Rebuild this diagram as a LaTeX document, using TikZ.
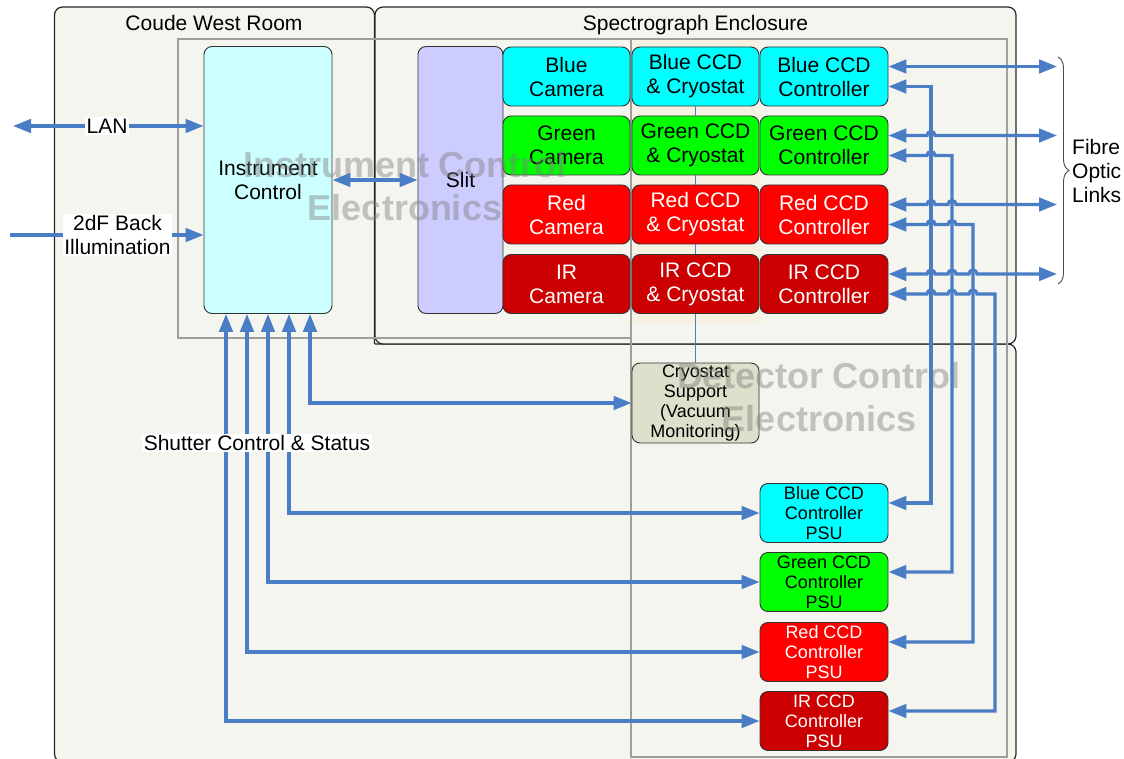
\documentclass[tikz,border=0pt]{standalone}
\usepackage{fontspec}
\setmainfont{Liberation Sans}
\usetikzlibrary{arrows.meta,decorations.pathreplacing}
\definecolor{outerfill}{HTML}{F5F5F0}
\definecolor{beigecol}{HTML}{F6F1E0}
\definecolor{ablue}{RGB}{73,125,197}
\definecolor{icfill}{HTML}{CCFFFF}
\definecolor{slitfill}{HTML}{CCCCFF}
\definecolor{cyanb}{HTML}{00FFFF}
\definecolor{greenb}{HTML}{00FF00}
\definecolor{redb}{HTML}{FF0000}
\definecolor{irb}{HTML}{CC0000}
\definecolor{cryofill}{HTML}{DDE0CA}
\definecolor{wmgray}{RGB}{128,128,128}
\newcommand\fbig{\fontsize{21}{24}\selectfont}
\newcommand\fsmall{\fontsize{18}{20}\selectfont}
\newcommand\fwm{\fontsize{36}{43}\selectfont\bfseries}
\begin{document}
\begin{tikzpicture}[x=1pt,y=-1pt,
  outline/.style={draw=black!85, line width=1.2pt, rounded corners=8pt},
  outerbox/.style={outline, fill=outerfill},
  grayrect/.style={draw=black!38, line width=1.4pt},
  box/.style={draw=black!80, line width=0.9pt, rounded corners=8pt, minimum width=127pt, minimum height=59pt, inner sep=0pt, align=center, font=\fbig},
  psu/.style={box, font=\fsmall, minimum width=128pt},
  conn/.style={draw=ablue, line width=3.2pt},
  >={Triangle[length=18pt,width=13.5pt]},
  lbl/.style={fill=white, inner sep=1.5pt, font=\fbig, align=center},
  ttl/.style={font=\fbig, inner sep=0pt},
  wm/.style={text=wmgray, text opacity=0.45, font=\fwm, align=center, inner sep=0pt}
]
\fill[white] (0,0) rectangle (1124,759);
\useasboundingbox (0,0) rectangle (1124,759);

% outer enclosures
\fill[outerfill, rounded corners=8pt] (54.5,7) rectangle (374.5,770);
\fill[outerfill, rounded corners=8pt] (360,344) rectangle (1016,762);
\draw[outline] (374.5,344) -- (374.5,7) -- (54.5,7) -- (54.5,762) -- (300,762);
\draw[outline] (375,344) -- (1016,344) -- (1016,762) -- (800,762);
\draw[outerbox] (375,7) rectangle (1016,344);
\fill[beigecol] (632,39) rectangle (760,323);
\draw[grayrect] (178,39) rectangle (631,338);
\draw[grayrect] (631,39) rectangle (1007,757);

\node[ttl] (tC) at (214,23) {Coude West Room};
\node[ttl] (tS) at (695.5,25) {Spectrograph Enclosure};

% main nodes
\node[box, fill=icfill, minimum width=128pt, minimum height=267pt] (ic) at (268,180) {Instrument\\Control};
\node[box, fill=slitfill, minimum width=85pt, minimum height=267pt] (slit) at (460.5,180) {Slit};

\node[box, fill=cyanb] (camB) at (566.5,76.5) {Blue\\Camera};
\node[box, fill=greenb] (camG) at (566.5,145.5) {Green\\Camera};
\node[box, fill=redb, text=white] (camR) at (566.5,214.5) {Red\\Camera};
\node[box, fill=irb, text=white] (camI) at (566.5,284) {IR\\Camera};

\node[box, fill=cyanb] (ccdB) at (695.5,76.5) {Blue CCD\\\& Cryostat};
\node[box, fill=greenb] (ccdG) at (695.5,145.5) {Green CCD\\\& Cryostat};
\node[box, fill=redb, text=white] (ccdR) at (695.5,214.5) {Red CCD\\\& Cryostat};
\node[box, fill=irb, text=white] (ccdI) at (695.5,284) {IR CCD\\\& Cryostat};

\node[box, fill=cyanb, minimum width=128pt] (ctrlB) at (824,76.5) {Blue CCD\\Controller};
\node[box, fill=greenb, minimum width=128pt] (ctrlG) at (824,145.5) {Green CCD\\Controller};
\node[box, fill=redb, text=white, minimum width=128pt] (ctrlR) at (824,214.5) {Red CCD\\Controller};
\node[box, fill=irb, text=white, minimum width=128pt] (ctrlI) at (824,284) {IR CCD\\Controller};

\node[box, fill=cryofill, font=\fsmall, minimum height=80pt] (cryo) at (695.5,403) {Cryostat\\Support\\(Vacuum\\Monitoring)};

\node[psu, fill=cyanb] (psuB) at (824,513) {Blue CCD\\Controller\\PSU};
\node[psu, fill=greenb] (psuG) at (824,582) {Green CCD\\Controller\\PSU};
\node[psu, fill=redb, text=white] (psuR) at (824,652) {Red CCD\\Controller\\PSU};
\node[psu, fill=irb, text=white] (psuI) at (824,721) {IR CCD\\Controller\\PSU};

% watermark labels
\node[wm] (wmI) at (405,186) {Instrument Control\\Electronics};
\node[wm] (wmD) at (819,397) {Detector Control\\Electronics};

% thin cryostat link
\draw[ablue, line width=1.2pt] (ccdB.south) -- (ccdG.north) (ccdG.south) -- (ccdR.north)
  (ccdR.south) -- (ccdI.north) (ccdI.south) -- (cryo.north);

% left side connectors
\coordinate (lanL) at (13,126);
\coordinate (bkL) at (10,235);
\draw[conn,<->] (lanL) -- (ic.west |- lanL);
\draw[conn,->] (bkL) -- (ic.west |- bkL);
\draw[conn,<->] (ic.east) -- (slit.west);

% fibre optic links
\coordinate (fB) at (1057,66.5);
\coordinate (fG) at (1057,135.5);
\coordinate (fR) at (1057,204.5);
\coordinate (fI) at (1057,274);
\draw[conn,<->] ([yshift=10pt]ctrlB.east) -- (fB);
\draw[conn,<->] ([yshift=10pt]ctrlG.east) -- (927,135.5) arc[start angle=180,end angle=0,radius=4pt] -- (fG);
\draw[conn,<->] ([yshift=10pt]ctrlR.east) -- (927,204.5) arc[start angle=180,end angle=0,radius=4pt]
  -- (948,204.5) arc[start angle=180,end angle=0,radius=4pt] -- (fR);
\draw[conn,<->] ([yshift=10pt]ctrlI.east) -- (927,274) arc[start angle=180,end angle=0,radius=4pt]
  -- (948,274) arc[start angle=180,end angle=0,radius=4pt]
  -- (969,274) arc[start angle=180,end angle=0,radius=4pt] -- (fI);

% controller to PSU
\draw[conn,<->] ([yshift=-10pt]ctrlB.east) -| (931,503) -- ([yshift=10pt]psuB.east);
\draw[conn,<->] ([yshift=-10pt]ctrlG.east) -- (927,155.5) arc[start angle=180,end angle=0,radius=4pt]
  -| (952,572) -- ([yshift=10pt]psuG.east);
\draw[conn,<->] ([yshift=-10pt]ctrlR.east) -- (927,224.5) arc[start angle=180,end angle=0,radius=4pt]
  -- (948,224.5) arc[start angle=180,end angle=0,radius=4pt] -| (973,642) -- ([yshift=10pt]psuR.east);
\draw[conn,<->] ([yshift=-10pt]ctrlI.east) -- (927,294) arc[start angle=180,end angle=0,radius=4pt]
  -- (948,294) arc[start angle=180,end angle=0,radius=4pt]
  -- (969,294) arc[start angle=180,end angle=0,radius=4pt] -| (995,711) -- ([yshift=10pt]psuI.east);

% shutter control & status
\draw[conn,<->] ([xshift=42pt]ic.south) |- (cryo.west);
\draw[conn,<->] ([xshift=21pt]ic.south) |- (psuB.west);
\draw[conn,<->] (ic.south) |- (psuG.west);
\draw[conn,<->] ([xshift=-21pt]ic.south) |- (psuR.west);
\draw[conn,<->] ([xshift=-42pt]ic.south) |- (psuI.west);

% labels
\node[lbl] (lan) at (107,126) {LAN};
\node[lbl] (bk) at (117.5,235) {2dF Back\\Illumination};
\node[lbl] (shut) at (257,443) {Shutter Control \& Status};

% brace
\coordinate (brT) at (1058,57);
\coordinate (brB) at (1058,284);
\draw[black!70, line width=0.9pt, decorate, decoration={brace, amplitude=11pt}] (brT) -- (brB);
\node[font=\fbig, align=left, anchor=west, inner sep=0pt] (fol) at (1072,171) {Fibre\\Optic\\Links};
\end{tikzpicture}
\end{document}
